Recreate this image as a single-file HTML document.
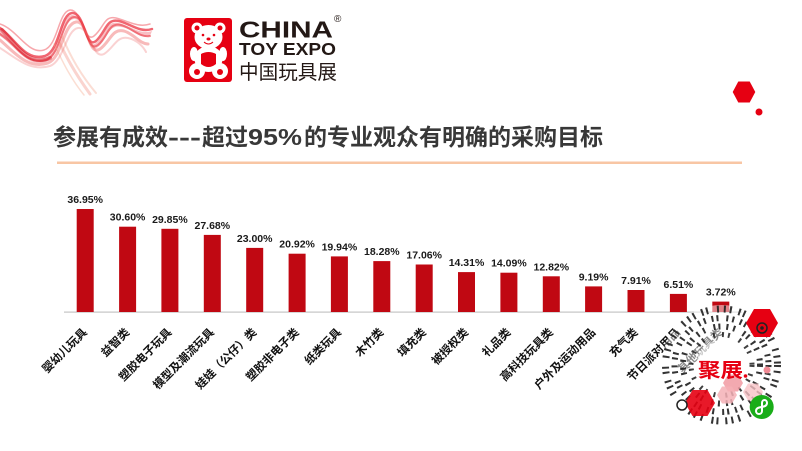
<!DOCTYPE html>
<html><head><meta charset="utf-8">
<style>
html,body{margin:0;padding:0;background:#fff;}
svg{display:block;}
text{font-family:"Liberation Sans","Noto Sans CJK SC",sans-serif;}
</style></head>
<body>
<svg width="802" height="451" viewBox="0 0 802 451" xmlns="http://www.w3.org/2000/svg">
<rect width="802" height="451" fill="#fff"/>

<!-- ribbon -->
<g fill="none" stroke-linecap="round">
  <path d="M0,30 C15,40 25,64 45,58 C60,53 60,16 72,15 C85,14 85,52 96,43 C106,34 106,20 119,23 C131,26 140,35 152,31 L150,36 C140,40 132,28 121,27 C108,24 108,39 98,47 C86,56 87,18 74,19 C62,20 61,57 46,62 C26,68 16,46 0,36 Z" fill="#e60012" stroke="none" opacity="0.25"/>
  <path d="M0,28 C15,38 25,62 45,56 C60,51 60,14 72,13 C85,12 85,50 96,41 C106,32 106,18 119,21 C131,24 140,33 152,29" stroke="#e60012" stroke-width="2.5" opacity="0.6"/>
  <path d="M0,34 C16,44 26,66 46,60 C61,55 62,18 74,17 C87,16 86,54 98,45 C108,37 108,22 121,25 C132,28 140,38 150,36" stroke="#e8202a" stroke-width="2" opacity="0.5"/>
  <path d="M0,40 C14,52 28,70 48,63 C62,58 63,24 76,22 C88,20 88,57 100,49 C110,42 112,28 124,31 C134,34 140,44 148,44" stroke="#ec3a3a" stroke-width="3" opacity="0.35"/>
  <path d="M0,24 C18,30 28,55 44,50 C58,46 58,12 70,10 C82,9 84,44 94,36 C104,28 104,15 116,18 C128,21 138,28 150,24" stroke="#f0505a" stroke-width="1.5" opacity="0.5"/>
  <path d="M0,48 C16,58 30,72 50,66 C64,61 66,30 78,28 C90,26 92,60 104,54 C114,48 116,36 128,38 C138,40 144,48 146,52" stroke="#f06a6a" stroke-width="2" opacity="0.3"/>
  <path d="M58,40 C66,56 74,72 90,94" stroke="#f07060" stroke-width="3" opacity="0.3"/>
  <path d="M62,36 C70,56 80,74 96,93" stroke="#f29070" stroke-width="2" opacity="0.3"/>
  <path d="M54,44 C62,60 70,78 84,95" stroke="#f4a080" stroke-width="1.5" opacity="0.35"/>
  <path d="M2,30 C20,50 30,66 50,58" stroke="#d0000c" stroke-width="4" opacity="0.4"/>
</g>

<!-- logo box -->
<rect x="184" y="18" width="48" height="64" rx="3" fill="#e60012"/>
<g fill="#fff">
  <circle cx="197" cy="28" r="5.5"/>
  <circle cx="220" cy="28" r="5.5"/>
  <ellipse cx="208.5" cy="37" rx="14" ry="12"/>
  <ellipse cx="208.5" cy="59" rx="14" ry="13"/>
  <ellipse cx="194" cy="54" rx="4" ry="7"/>
  <ellipse cx="223" cy="54" rx="4" ry="7"/>
  <circle cx="197" cy="71" r="8"/>
  <circle cx="220" cy="71" r="8"/>
</g>
<g fill="#e60012">
  <circle cx="197" cy="28" r="2.5"/>
  <circle cx="220" cy="28" r="2.5"/>
  <circle cx="203" cy="35" r="1.3"/>
  <circle cx="214" cy="35" r="1.3"/>
  <ellipse cx="208.5" cy="39" rx="2" ry="1.5"/>
  <path d="M201,54 Q208.5,50 216,54 L216,64 Q208.5,70 201,64 Z"/>
  <circle cx="197" cy="72" r="3"/>
  <circle cx="220" cy="72" r="3"/>
</g>
<path d="M204,42 Q208.5,46 213,42" fill="none" stroke="#e60012" stroke-width="1"/>
<text x="239" y="37.3" font-size="23" font-weight="bold" fill="#231815" textLength="94" lengthAdjust="spacingAndGlyphs">CHINA</text>
<text x="334" y="22" font-size="10" fill="#231815">®</text>
<text x="239" y="55" font-size="17.5" font-weight="bold" fill="#231815" textLength="97" lengthAdjust="spacingAndGlyphs">TOY EXPO</text>
<text x="239" y="79" font-size="20" fill="#231815" textLength="98" lengthAdjust="spacingAndGlyphs">中国玩具展</text>

<!-- top-right hexagon -->
<polygon points="732.7,92 738.3,81.5 749.7,81.5 755.3,92 749.7,102.5 738.3,102.5" fill="#e60012"/>
<circle cx="759" cy="112" r="3.5" fill="#e60012"/>

<!-- title -->
<g font-size="23" font-weight="bold" fill="#383838">
  <text x="53" y="145">参展有成效</text>
  <text x="168" y="145" textLength="33" lengthAdjust="spacingAndGlyphs">---</text>
  <text x="202" y="145">超过</text>
  <text x="248" y="145" textLength="54" lengthAdjust="spacingAndGlyphs">95%</text>
  <text x="304" y="145">的专业观众有明确的采购目标</text>
</g>
<rect x="57" y="161.5" width="685" height="2.5" fill="#f8c6a4"/>

<!-- axis -->
<rect x="64" y="311.5" width="678" height="1.2" fill="#c4c4c4"/>

<!-- bars -->
<g fill="#c00812">
  <rect x="76.7" y="209.0" width="17" height="103.0"/>
  <rect x="119.1" y="226.7" width="17" height="85.3"/>
  <rect x="161.4" y="228.8" width="17" height="83.2"/>
  <rect x="203.8" y="234.9" width="17" height="77.1"/>
  <rect x="246.2" y="247.9" width="17" height="64.1"/>
  <rect x="288.6" y="253.7" width="17" height="58.3"/>
  <rect x="330.9" y="256.4" width="17" height="55.6"/>
  <rect x="373.3" y="261.1" width="17" height="50.9"/>
  <rect x="415.7" y="264.5" width="17" height="47.5"/>
  <rect x="458.0" y="272.1" width="17" height="39.9"/>
  <rect x="500.4" y="272.7" width="17" height="39.3"/>
  <rect x="542.8" y="276.3" width="17" height="35.7"/>
  <rect x="585.1" y="286.4" width="17" height="25.6"/>
  <rect x="627.5" y="290.0" width="17" height="22.0"/>
  <rect x="669.9" y="293.9" width="17" height="18.1"/>
  <rect x="712.3" y="301.6" width="17" height="10.4"/>
</g>

<!-- value labels -->
<g font-size="10.5" font-weight="bold" fill="#1a1a1a" text-anchor="middle">
  <text x="85.2" y="203">36.95%</text>
  <text x="127.6" y="220.7">30.60%</text>
  <text x="169.9" y="222.8">29.85%</text>
  <text x="212.3" y="228.9">27.68%</text>
  <text x="254.7" y="241.9">23.00%</text>
  <text x="297.1" y="247.7">20.92%</text>
  <text x="339.4" y="250.4">19.94%</text>
  <text x="381.8" y="255.1">18.28%</text>
  <text x="424.2" y="258.5">17.06%</text>
  <text x="466.5" y="266.1">14.31%</text>
  <text x="508.9" y="266.7">14.09%</text>
  <text x="551.3" y="270.3">12.82%</text>
  <text x="593.6" y="280.4">9.19%</text>
  <text x="636.0" y="284.0">7.91%</text>
  <text x="678.4" y="287.9">6.51%</text>
  <text x="720.8" y="295.6">3.72%</text>
</g>

<!-- category labels -->
<g font-size="11.5" font-weight="bold" fill="#111" text-anchor="end">
  <text transform="translate(87.7,333) rotate(-45)">婴幼儿玩具</text>
  <text transform="translate(130.1,333) rotate(-45)">益智类</text>
  <text transform="translate(172.4,333) rotate(-45)">塑胶电子玩具</text>
  <text transform="translate(214.8,333) rotate(-45)">模型及潮流玩具</text>
  <text transform="translate(257.2,333) rotate(-45)">娃娃（公仔）类</text>
  <text transform="translate(299.6,333) rotate(-45)">塑胶非电子类</text>
  <text transform="translate(341.9,333) rotate(-45)">纸类玩具</text>
  <text transform="translate(384.3,333) rotate(-45)">木竹类</text>
  <text transform="translate(426.7,333) rotate(-45)">填充类</text>
  <text transform="translate(469.0,333) rotate(-45)">被授权类</text>
  <text transform="translate(511.4,333) rotate(-45)">礼品类</text>
  <text transform="translate(553.8,333) rotate(-45)">高科技玩具类</text>
  <text transform="translate(596.1,333) rotate(-45)">户外及运动用品</text>
  <text transform="translate(638.5,333) rotate(-45)">充气类</text>
  <text transform="translate(680.9,333) rotate(-45)">节日派对用品</text>
  <text transform="translate(723.3,333) rotate(-45)">其他玩具类</text>
</g>

<!-- mini program code -->
<g>
  <circle cx="721.5" cy="365" r="60" fill="#fff" opacity="0.5"/>
  <g fill="none" stroke="#1e1e1e">
    <circle cx="721.5" cy="365" r="56" stroke-width="7" stroke-dasharray="2 4 2 7 2 3 2 9 2 5" opacity="0.9"/>
    <circle cx="721.5" cy="365" r="47" stroke-width="6" stroke-dasharray="2 6 2 3 2 8 2 4" opacity="0.9"/>
    <circle cx="721.5" cy="365" r="38.5" stroke-width="6" stroke-dasharray="2 5 2 9 2 3 2 6" opacity="0.9"/>
    <circle cx="721.5" cy="365" r="30.5" stroke-width="5" stroke-dasharray="2 7 2 4 2 10" opacity="0.85"/>
  </g>
  <circle cx="721.5" cy="365" r="25" fill="#fff" opacity="0.5"/>
  <polygon points="723,383 728,374.5 738,374.5 743,383 738,391.5 728,391.5" fill="#f19aa2" opacity="0.85"/>
  <polygon points="717,395 722,386.5 732,386.5 737,395 732,403.5 722,403.5" fill="#f4b0b6" opacity="0.85"/>
  <polygon points="743,392 748,383.5 758,383.5 763,392 758,400.5 748,400.5" fill="#f7c2c6" opacity="0.8"/>
  <circle cx="767" cy="370" r="3.5" fill="#f08a94"/>
  <polygon points="746,323 754,309 770,309 778,323 770,337 754,337" fill="#e60012"/>
  <circle cx="762" cy="328" r="5" fill="none" stroke="#222" stroke-width="1.5"/>
  <circle cx="762" cy="328" r="1.8" fill="#222"/>
  <polygon points="685,403 692.5,390 707.5,390 715,403 707.5,416 692.5,416" fill="#e60012" opacity="0.9"/>
  <circle cx="682" cy="405" r="5" fill="#fff" stroke="#222" stroke-width="1.5"/>
  <circle cx="761.7" cy="407" r="12" fill="#1aad19"/>
  <path d="M756,411 C756,405 767,409 767,403 M756,411 C756,415 762,415 762,411 L762,403 C762,399 767,399 767,403" fill="none" stroke="#fff" stroke-width="2"/>
  <text x="698" y="377" font-size="20" font-weight="bold" fill="#e60012" textLength="45" lengthAdjust="spacingAndGlyphs">聚展</text>
  <circle cx="745.5" cy="376" r="1.8" fill="#e60012"/>
</g>
</svg>
</body></html>
